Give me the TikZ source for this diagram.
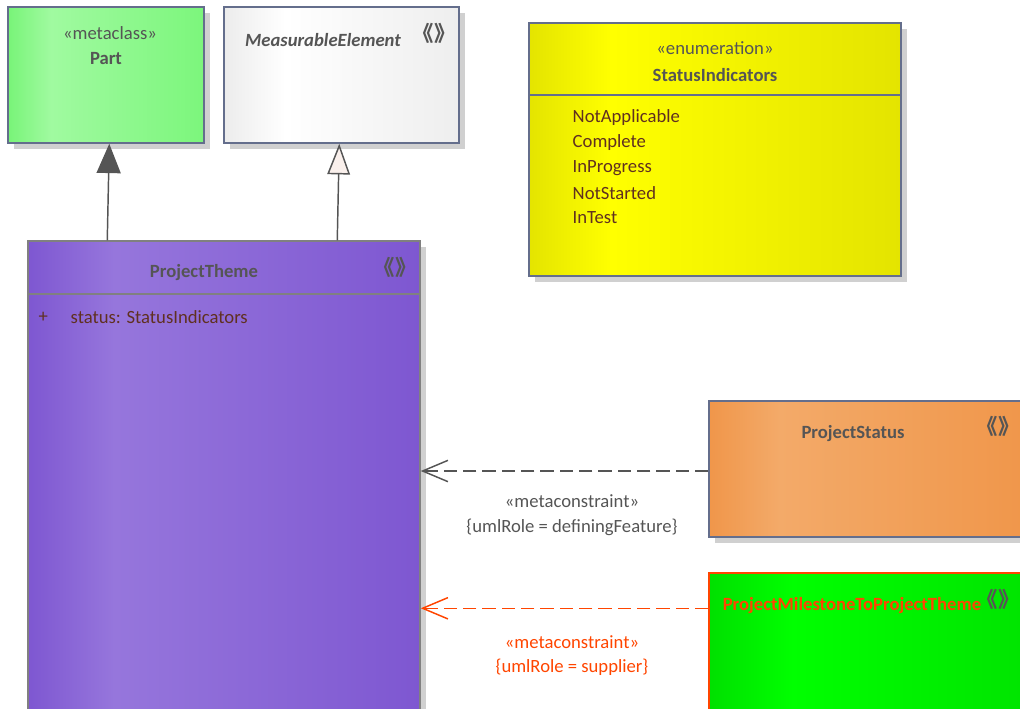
\documentclass[tikz,border=0pt]{standalone}
\usepackage{fontspec}
\setmainfont{Carlito}
\newfontfamily\cjk{Noto Sans CJK SC}
\usetikzlibrary{arrows.meta,shadows}

\definecolor{slate}{RGB}{100,110,140}
\definecolor{txtgray}{RGB}{85,85,85}
\definecolor{attrbrown}{RGB}{96,48,32}
\definecolor{shadowgray}{RGB}{208,208,208}
\definecolor{redorange}{RGB}{255,69,0}
\definecolor{tipfill}{RGB}{250,240,236}

\pgfdeclarehorizontalshading{partshade}{100bp}{color(0bp)=(rgb,255:red,120;green,244;blue,120); color(25bp)=(rgb,255:red,120;green,244;blue,120); color(36bp)=(rgb,255:red,160;green,250;blue,160); color(75bp)=(rgb,255:red,124;green,246;blue,124); color(100bp)=(rgb,255:red,124;green,246;blue,124)}
\pgfdeclarehorizontalshading{elemshade}{100bp}{color(0bp)=(rgb,255:red,236;green,236;blue,236); color(25bp)=(rgb,255:red,236;green,236;blue,236); color(38bp)=(rgb,255:red,255;green,255;blue,255); color(75bp)=(rgb,255:red,238;green,238;blue,238); color(100bp)=(rgb,255:red,238;green,238;blue,238)}
\pgfdeclarehorizontalshading{enumshade}{100bp}{color(0bp)=(rgb,255:red,228;green,228;blue,0); color(25bp)=(rgb,255:red,228;green,228;blue,0); color(36bp)=(rgb,255:red,255;green,255;blue,0); color(75bp)=(rgb,255:red,228;green,228;blue,0); color(100bp)=(rgb,255:red,228;green,228;blue,0)}
\pgfdeclarehorizontalshading{themeshade}{100bp}{color(0bp)=(rgb,255:red,126;green,87;blue,209); color(25bp)=(rgb,255:red,126;green,87;blue,209); color(36bp)=(rgb,255:red,150;green,118;blue,220); color(75bp)=(rgb,255:red,126;green,87;blue,209); color(100bp)=(rgb,255:red,126;green,87;blue,209)}
\pgfdeclarehorizontalshading{statusshade}{100bp}{color(0bp)=(rgb,255:red,240;green,150;blue,74); color(25bp)=(rgb,255:red,240;green,150;blue,74); color(36bp)=(rgb,255:red,243;green,170;blue,105); color(75bp)=(rgb,255:red,240;green,150;blue,74); color(100bp)=(rgb,255:red,240;green,150;blue,74)}
\pgfdeclarehorizontalshading{milestoneshade}{100bp}{color(0bp)=(rgb,255:red,0;green,224;blue,0); color(25bp)=(rgb,255:red,0;green,224;blue,0); color(38bp)=(rgb,255:red,0;green,255;blue,0); color(75bp)=(rgb,255:red,0;green,228;blue,0); color(100bp)=(rgb,255:red,0;green,228;blue,0)}

\newcommand{\umlchev}{{\cjk\bfseries\fontsize{16}{18}\selectfont 《》}}

\begin{document}
\begin{tikzpicture}[
    x=0.75pt, y=-0.75pt,
    cls/.style={rectangle, draw=slate, line width=1.1pt, inner sep=0pt,
        drop shadow={shadow xshift=4.5pt, shadow yshift=-4.5pt, fill=shadowgray, opacity=1}},
    title/.style={text=txtgray, font=\fontsize{14}{17}\selectfont\bfseries},
    stereo/.style={text=txtgray, font=\fontsize{14}{17}\selectfont},
    item/.style={anchor=west, text=attrbrown, font=\fontsize{14}{17}\selectfont},
    chev/.style={text=txtgray, inner sep=0pt},
    sep/.style={draw=slate, line width=1.1pt},
    gen/.style={draw=txtgray, line width=1.1pt},
    dep/.style={line width=1.1pt, dash pattern=on 10pt off 4.5pt,
        -{Straight Barb[length=19pt,width=16pt,line width=1.1pt]}},
    font=\fontsize{14}{17}\selectfont
]
\useasboundingbox (0,0) rectangle (1020,708);
\clip (0,0) rectangle (1020,708);

% top row
\node[cls, shading=partshade, minimum width=147pt, minimum height=102pt] (part) at (106,75) {};
\node[stereo] (part-st) at (110,33) {«metaclass»};
\node[title] (part-name) at (106,59) {Part};

\node[cls, shading=elemshade, minimum width=176.25pt, minimum height=102pt] (elem) at (341.5,75) {};
\node[title, font=\fontsize{14}{17}\selectfont\bfseries\itshape] (elem-name) at (323,40) {MeasurableElement};
\node[chev] (elem-chev) at (434,33) {\umlchev};

\node[cls, shading=enumshade, minimum width=279pt, minimum height=189.75pt] (enum) at (715,149.5) {};
\node[stereo] (enum-st) at (715,48) {«enumeration»};
\node[title] (enum-name) at (715,75) {StatusIndicators};
\draw[sep] (enum.west |- 0,95) -- (enum.east |- 0,95);
\node[item] (lit1) at (568,118) {NotApplicable};
\node[item] (lit2) at (568,143) {Complete};
\node[item] (lit3) at (568,168) {InProgress};
\node[item] (lit4) at (568,193) {NotStarted};
\node[item] (lit5) at (568,218) {InTest};

% project theme
\node[cls, draw=gray, shading=themeshade, minimum width=294pt, minimum height=366.75pt] (theme) at (224,485.5) {};
\node[title] (theme-name) at (204,273) {ProjectTheme};
\node[chev] (theme-chev) at (395,267) {\umlchev};
\draw[sep, draw=gray] (theme.west |- 0,294) -- (theme.east |- 0,294);
\node[item] (attr-vis) at (34,317) {+};
\node[item] (attr) at (66,317) {status: StatusIndicators};

% right side
\node[cls, shading=statusshade, minimum width=240.75pt, minimum height=102pt] (status) at (869.5,469) {};
\node[title] (status-name) at (853,434) {ProjectStatus};
\node[chev] (status-chev) at (998,426) {\umlchev};

\node[cls, draw=redorange, shading=milestoneshade, minimum width=240.75pt, minimum height=110.25pt] (mile) at (869.5,646.5) {};
\node[title, text=redorange] (mile-name) at (852,606) {ProjectMilestoneToProjectTheme};
\node[chev] (mile-chev) at (998,599) {\umlchev};

% connectors
\draw[gen, -{Triangle[length=22pt,width=18pt]}] ([xshift=60pt]theme.north west) -- ([xshift=76.5pt]part.south west);
\draw[gen, -{Triangle[length=23pt,width=17pt,fill=tipfill]}] ([xshift=232.5pt]theme.north west) -- ([xshift=87pt]elem.south west);

\coordinate (dep1) at ([yshift=-1.5pt]status.west);
\draw[dep, draw=txtgray] (dep1) -- (theme.east |- dep1);
\node[stereo] (dep1-st) at (572,501) {«metaconstraint»};
\node[stereo] (dep1-tag) at (572,527) {\{umlRole = definingFeature\}};

\coordinate (dep2) at ([yshift=-27pt]mile.north west);
\draw[dep, draw=redorange] (dep2) -- (theme.east |- dep2);
\node[stereo, text=redorange] (dep2-st) at (572,642) {«metaconstraint»};
\node[stereo, text=redorange] (dep2-tag) at (572,667) {\{umlRole = supplier\}};

\end{tikzpicture}
\end{document}
